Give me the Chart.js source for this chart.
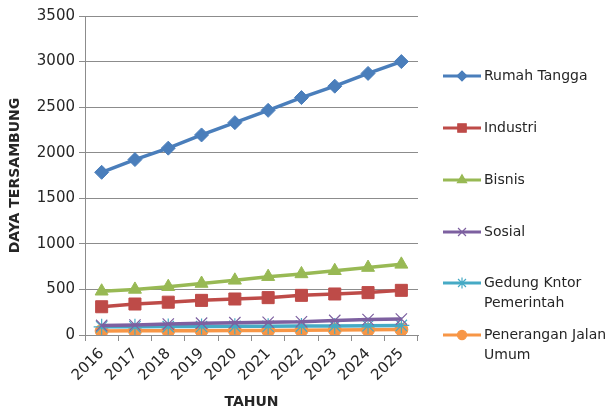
<!DOCTYPE html>
<html>
<head>
<meta charset="utf-8">
<script src="https://cdn.jsdelivr.net/npm/chart.js@4.4.1/dist/chart.umd.min.js"></script>
<style>
  html, body { margin: 0; padding: 0; background: #ffffff; }
  #wrap { width: 611px; height: 412px; position: relative; }
</style>
</head>
<body>
<div id="wrap"><canvas id="c" width="611" height="412"></canvas></div>
<script>
const years = ['2016','2017','2018','2019','2020','2021','2022','2023','2024','2025'];
const seriesNames = ['Rumah Tangga', 'Industri', 'Bisnis', 'Sosial', 'Gedung Kntor Pemerintah', 'Penerangan Jalan Umum'];
const legendLines = [['Rumah Tangga'], ['Industri'], ['Bisnis'], ['Sosial'], ['Gedung Kntor', 'Pemerintah'], ['Penerangan Jalan', 'Umum']];
const rumahTangga = [1785, 1925, 2050, 2195, 2330, 2465, 2605, 2730, 2870, 3000];
const industri = [310, 340, 360, 380, 395, 410, 435, 450, 465, 490];
const bisnis = [480, 500, 530, 565, 600, 640, 670, 705, 740, 775];
const sosial = [105, 110, 120, 130, 135, 140, 145, 160, 170, 175];
const gedung = [90, 90, 92, 93, 95, 96, 98, 100, 102, 105];
const penerangan = [45, 46, 47, 48, 49, 50, 52, 55, 57, 60];
const yTicks = [0, 500, 1000, 1500, 2000, 2500, 3000, 3500];

const colors = ['#4A7EBB', '#BE4B48', '#98B954', '#7D60A0', '#46AAC5', '#F79646'];
const markers = ['rectRot', 'rect', 'triangle', 'crossRot', 'star', 'circle'];
const radii = [7, 8.5, 7.5, 8, 8, 6.5];
const allData = [rumahTangga, industri, bisnis, sosial, gedung, penerangan];

const FONT = 'DejaVu Sans';

const datasets = allData.map((d, i) => ({
  label: seriesNames[i],
  data: d,
  borderColor: colors[i],
  backgroundColor: colors[i],
  borderWidth: 3.5,
  pointStyle: markers[i],
  pointRadius: radii[i],
  pointBorderWidth: (markers[i] === 'crossRot' || markers[i] === 'star') ? 1.2 : 1,
  pointBorderColor: colors[i],
  pointBackgroundColor: colors[i],
  tension: 0
}));

const legendPlugin = {
  id: 'sideLegend',
  afterDraw(chart) {
    const ctx = chart.ctx;
    const ys = [76, 128, 180, 232, 283, 335];
    ctx.save();
    ctx.font = '14px "' + FONT + '"';
    ctx.textBaseline = 'middle';
    ctx.textAlign = 'left';
    datasets.forEach((ds, i) => {
      const y = ys[i];
      ctx.strokeStyle = ds.borderColor;
      ctx.lineWidth = 3;
      ctx.beginPath();
      ctx.moveTo(443, y);
      ctx.lineTo(481, y);
      ctx.stroke();
      ctx.fillStyle = ds.backgroundColor;
      ctx.strokeStyle = ds.borderColor;
      ctx.lineWidth = 1.2;
      Chart.helpers.drawPoint(ctx, {pointStyle: ds.pointStyle, radius: ds.pointRadius * 0.7, rotation: 0, borderWidth: 1.2}, 462, y);
      ctx.fillStyle = '#262626';
      legendLines[i].forEach((t, k) => {
        ctx.fillText(t, 484, y + k * 20);
      });
    });
    ctx.restore();
  }
};

new Chart(document.getElementById('c'), {
  type: 'line',
  data: { labels: years, datasets: datasets },
  plugins: [legendPlugin],
  options: {
    responsive: false,
    animation: false,
    devicePixelRatio: 1,
    layout: { padding: { top: 16, right: 193, left: 0, bottom: 0 } },
    plugins: {
      legend: { display: false },
      tooltip: { enabled: false }
    },
    scales: {
      x: {
        type: 'category',
        offset: true,
        grid: { display: true, drawOnChartArea: false, drawTicks: true, tickLength: 6, offset: true, color: '#8c8c8c', lineWidth: 1 },
        border: { display: true, color: '#8c8c8c', width: 1 },
        ticks: { color: '#262626', font: { family: FONT, size: 15 }, minRotation: 45, maxRotation: 45, padding: 4, autoSkip: false },
        title: { display: true, text: 'TAHUN', color: '#262626', font: { family: FONT, size: 14, weight: 'bold' }, padding: { top: 0, bottom: 1 } },
        afterFit(scale) { scale.height = 77; }
      },
      y: {
        min: 0,
        max: 3500,
        afterBuildTicks(scale) { scale.ticks = yTicks.map(v => ({ value: v })); },
        grid: { display: true, drawOnChartArea: true, drawTicks: true, tickLength: 6, color: '#8c8c8c', lineWidth: 1 },
        border: { display: true, color: '#8c8c8c', width: 1 },
        ticks: { color: '#262626', font: { family: FONT, size: 15 }, padding: 4, callback: (v) => String(v) },
        title: { display: true, text: 'DAYA TERSAMBUNG', color: '#262626', font: { family: FONT, size: 14, weight: 'bold' }, padding: { top: 7, bottom: 0 } },
        afterFit(scale) { scale.width = 85; }
      }
    }
  }
});
</script>
</body>
</html>
